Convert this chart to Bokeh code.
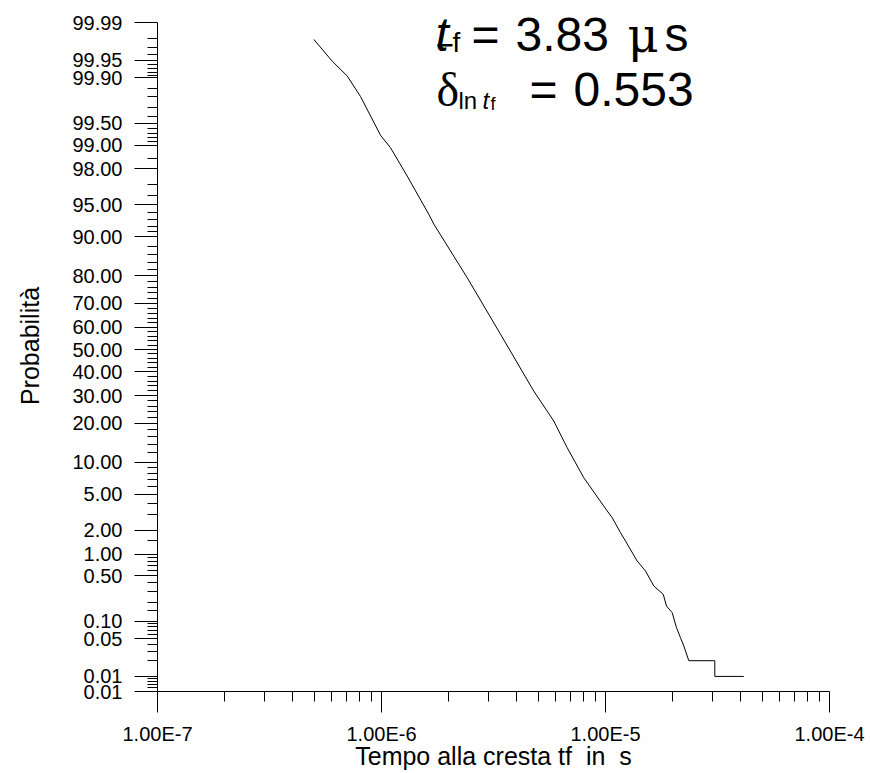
from statistics import NormalDist
from bokeh.plotting import figure
from bokeh.models import FixedTicker, Range1d, Label, BoxAnnotation
from bokeh.embed import file_html
from bokeh.resources import INLINE

# ---------------- data ----------------
tf_us = [0.499, 0.603, 0.703, 0.806, 0.990, 1.096, 1.302, 1.626, 1.713, 2.413,
         3.399, 4.784, 5.875, 6.745, 8.00, 10.18, 10.72, 11.67, 12.28, 13.85,
         15.09, 16.43, 18.10, 18.72, 19.85, 20.75, 21.62, 22.37, 23.54, 30.76,
         30.76, 41.44]
prob_pct = [99.979, 99.948, 99.907, 99.80, 99.26, 98.92, 97.58, 93.8, 92.3, 79.3,
            56.9, 31.8, 20.8, 13.2, 7.23, 3.31, 2.78, 1.86, 1.47, 0.806,
            0.587, 0.357, 0.268, 0.176, 0.1376, 0.0775, 0.0521, 0.0372, 0.02, 0.02,
            0.01, 0.01]

prob_major = [99.99, 99.95, 99.9, 99.5, 99, 98, 95, 90, 80, 70, 60, 50, 40, 30,
              20, 10, 5, 2, 1, 0.5, 0.1, 0.05, 0.01, 0.005]
prob_labels = ["99.99", "99.95", "99.90", "99.50", "99.00", "98.00", "95.00",
               "90.00", "80.00", "70.00", "60.00", "50.00", "40.00", "30.00",
               "20.00", "10.00", "5.00", "2.00", "1.00", "0.50", "0.10", "0.05",
               "0.01", "0.01"]
prob_minor = [99.98, 99.97, 99.96, 99.94, 99.93, 99.92, 99.91, 99.85, 99.8, 99.7,
              99.6, 99.4, 99.3, 99.2, 99.1, 98.5, 97, 96, 94, 93, 92, 91, 88, 86,
              84, 82, 78, 76, 74, 72, 68, 66, 64, 62, 58, 56, 54, 52, 48, 46, 44,
              42, 38, 36, 34, 32, 28, 26, 24, 22, 18, 16, 14, 12, 9, 8, 7, 6, 4, 3,
              1.5, 0.9, 0.8, 0.7, 0.6, 0.4, 0.3, 0.2, 0.15, 0.09, 0.08, 0.07, 0.06,
              0.04, 0.03, 0.02, 0.009, 0.008, 0.007, 0.006]

x_major = [1e-7, 1e-6, 1e-5, 1e-4]
x_labels = ["1.00E-7", "1.00E-6", "1.00E-5", "1.00E-4"]
x_minor = [k * d for d in [1e-7, 1e-6, 1e-5] for k in range(2, 10)]

# ---------------- transforms ----------------
nd = NormalDist()
def z(p):
    return nd.inv_cdf(p / 100.0)

xs = [t * 1e-6 for t in tf_us]
ys = [z(p) for p in prob_pct]

FONT = "Liberation Sans"
FRAME_H = 691          # frame spans the canvas from its top edge to the x axis
PX_PER_Z = 87.9        # vertical scale of the probability axis
Y_BOT = z(prob_major[-1])
Y_TOP = Y_BOT + FRAME_H / PX_PER_Z

p = figure(width=870, height=773, x_axis_type="log",
           x_range=Range1d(x_major[0], x_major[-1]),
           y_range=Range1d(Y_BOT, Y_TOP),
           output_backend="svg", toolbar_location=None,
           min_border_left=157, min_border_right=41,
           min_border_top=0, min_border_bottom=773 - FRAME_H)
p.outline_line_color = None
p.background_fill_color = "white"
p.border_fill_color = "white"
p.xgrid.visible = False
p.ygrid.visible = False

p.line(xs, ys, line_color="black", line_width=1)

# x axis
xa = p.xaxis[0]
xa.ticker = FixedTicker(ticks=x_major, minor_ticks=x_minor)
xa.major_label_overrides = {v: s for v, s in zip(x_major, x_labels)}
xa.major_tick_in = 0
xa.major_tick_out = 21
xa.minor_tick_in = 0
xa.minor_tick_out = 10
xa.major_label_standoff = 10
xa.major_label_text_font = FONT
xa.major_label_text_font_size = "20px"
xa.major_label_text_color = "black"
xa.axis_label = "Tempo alla cresta tf\u00a0 in\u00a0 s"
xa.axis_label_text_font = FONT
xa.axis_label_text_font_size = "25px"
xa.axis_label_text_font_style = "normal"
xa.axis_label_text_color = "black"
xa.axis_label_standoff = -6
xa.axis_line_color = "black"
xa.major_tick_line_color = "black"
xa.minor_tick_line_color = "black"

# y axis
ya = p.yaxis[0]
zmaj = [z(v) for v in prob_major]
ya.ticker = FixedTicker(ticks=zmaj, minor_ticks=[z(v) for v in prob_minor])
ya.major_label_overrides = {v: s for v, s in zip(zmaj, prob_labels)}
ya.bounds = (zmaj[-1], zmaj[0])
ya.major_tick_in = 0
ya.major_tick_out = 23
ya.minor_tick_in = 0
ya.minor_tick_out = 10
ya.major_label_standoff = 12
ya.major_label_text_font = FONT
ya.major_label_text_font_size = "20px"
ya.major_label_text_color = "black"
ya.axis_label = "Probabilità"
ya.axis_label_text_font = FONT
ya.axis_label_text_font_size = "25px"
ya.axis_label_text_font_style = "normal"
ya.axis_label_text_color = "black"
ya.axis_label_standoff = 25
ya.axis_line_color = "black"
ya.major_tick_line_color = "black"
ya.minor_tick_line_color = "black"

# ---------------- annotation text ----------------
def ax(px):
    return 10 ** (-7 + (px - 157) / 224.0)

def ay(py):
    return Y_TOP - py / PX_PER_Z

def lab(px, py, text, size, font=FONT, style="normal"):
    p.add_layout(Label(x=ax(px), y=ay(py), text=text, text_font=font,
                       text_font_size=size, text_font_style=style,
                       text_color="black", text_baseline="alphabetic",
                       text_align="left"))

BIG = "48px"
lab(435, 34, "t", BIG, style="italic")
lab(452, 42, "f", "28px")
lab(471, 34, "=", BIG)
lab(515, 34, "3.83", BIG)
lab(627, 34, "μ", BIG, font="DejaVu Serif")
lab(664, 34, "s", BIG)
p.add_layout(BoxAnnotation(left=ax(437), right=ax(452), top=ay(43.5), bottom=ay(46),
                           fill_color="black", fill_alpha=1, line_color=None))

lab(436, 89, "δ", BIG, font="Liberation Serif")
lab(458, 100, "ln", "24px")
lab(482, 100, "t", "24px", style="italic")
lab(490, 103, "f", "18px")
lab(529, 89, "=", BIG)
lab(573, 89, "0.553", BIG)

open("out.html", "w").write(file_html(p, INLINE))
